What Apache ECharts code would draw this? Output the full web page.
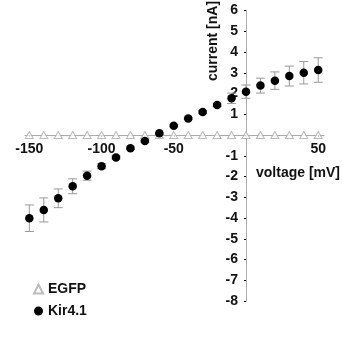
<!DOCTYPE html>
<html>
<head>
<meta charset="utf-8">
<script src="https://cdn.jsdelivr.net/npm/echarts@6/dist/echarts.min.js"></script>
<style>
  html, body { margin: 0; padding: 0; background: #fff; }
  #chart { width: 343px; height: 338px; }
</style>
</head>
<body>
<div id="chart"></div>
<script>
// voltage steps (mV)
const voltages = [-150, -140, -130, -120, -110, -100, -90, -80, -70, -60, -50, -40, -30, -20, -10, 0, 10, 20, 30, 40, 50];
// mean current (nA)
const kirCurrent = [-4.01, -3.61, -3.05, -2.47, -1.96, -1.50, -1.08, -0.64, -0.29, 0.08, 0.45, 0.80, 1.11, 1.45, 1.77, 2.09, 2.38, 2.62, 2.84, 3.00, 3.13];
const kirError = [0.64, 0.58, 0.45, 0.36, 0.22, 0.12, 0.08, 0.06, 0.05, 0.05, 0.05, 0.05, 0.06, 0.08, 0.25, 0.32, 0.36, 0.42, 0.48, 0.54, 0.59];
const egfpCurrent = [0, 0, 0, 0, 0, 0, 0, 0, 0, 0, 0, 0, 0, 0, 0, 0, 0, 0, 0, 0, 0];
const xLabels = [-150, -100, -50, 50];
const yMin = -8, yMax = 6;

const FONT = '"Liberation Sans", Arial, sans-serif';
const chart = echarts.init(document.getElementById('chart'));

// grid box in px; axes are shifted onto the zero lines with offset
const grid = { left: 25, right: 19, top: 10.5, bottom: 37 };
const xMin = -153, xMax = 54;
const gridW = 343 - grid.left - grid.right;
const gridH = 338 - grid.top - grid.bottom;
const yAxisShift = gridW * (0 - xMin) / (xMax - xMin);
const xAxisShift = gridH * (0 - yMin) / (yMax - yMin);

const errData = voltages.map((v, i) => [v, kirCurrent[i], kirError[i]]);

chart.setOption({
  backgroundColor: '#fff',
  animation: false,
  grid: grid,
  xAxis: {
    type: 'value',
    min: xMin,
    max: xMax,
    position: 'bottom',
    offset: -xAxisShift,
    axisLine: { onZero: false, lineStyle: { color: '#aaa', width: 1 } },
    axisTick: { show: true, customValues: [-150, -100, -50, 50], length: 2, lineStyle: { color: '#000' } },
    axisLabel: {
      customValues: xLabels,
      margin: 7,
      color: '#111',
      fontFamily: FONT,
      fontWeight: 'bold',
      fontSize: 14
    },
    splitLine: { show: false }
  },
  yAxis: {
    type: 'value',
    min: yMin,
    max: yMax,
    interval: 1,
    position: 'left',
    offset: -yAxisShift,
    axisLine: { onZero: false, lineStyle: { color: '#aaa', width: 1 } },
    axisTick: { show: true, length: 2, lineStyle: { color: '#000' } },
    axisLabel: {
      margin: 8,
      color: '#111',
      fontFamily: FONT,
      fontWeight: 'bold',
      fontSize: 14,
      formatter: v => (v === 0 ? '' : String(v))
    },
    splitLine: { show: false }
  },
  legend: {
    data: ['EGFP', 'Kir4.1'],
    orient: 'vertical',
    left: 28,
    top: 277,
    itemWidth: 9,
    itemHeight: 9,
    itemGap: 8,
    textStyle: { color: '#111', fontFamily: FONT, fontWeight: 'bold', fontSize: 14 }
  },
  graphic: [
    {
      type: 'text',
      x: 213,
      y: 41,
      rotation: Math.PI / 2,
      style: {
        text: 'current [nA]',
        fill: '#111',
        font: 'bold 14px ' + FONT,
        align: 'center',
        verticalAlign: 'middle'
      }
    },
    {
      type: 'text',
      x: 256,
      y: 173,
      style: {
        text: 'voltage [mV]',
        fill: '#111',
        font: 'bold 14px ' + FONT,
        align: 'left',
        verticalAlign: 'middle'
      }
    }
  ],
  series: [
    {
      name: 'err',
      type: 'custom',
      z: 2,
      encode: { x: 0, y: 1 },
      data: errData,
      renderItem: (params, api) => {
        const x = api.value(0), y = api.value(1), e = api.value(2);
        const top = api.coord([x, y + e]);
        const bot = api.coord([x, y - e]);
        const hw = 4.5;
        const st = { stroke: '#999', lineWidth: 1 };
        return {
          type: 'group',
          children: [
            { type: 'line', shape: { x1: top[0], y1: top[1], x2: bot[0], y2: bot[1] }, style: st },
            { type: 'line', shape: { x1: top[0] - hw, y1: top[1], x2: top[0] + hw, y2: top[1] }, style: st },
            { type: 'line', shape: { x1: bot[0] - hw, y1: bot[1], x2: bot[0] + hw, y2: bot[1] }, style: st }
          ]
        };
      }
    },
    {
      name: 'EGFP',
      type: 'scatter',
      z: 3,
      symbol: 'triangle',
      symbolSize: [8, 7],
      itemStyle: { color: '#fff', borderColor: '#aaa', borderWidth: 1 },
      data: voltages.map((v, i) => [v, egfpCurrent[i]])
    },
    {
      name: 'Kir4.1',
      type: 'scatter',
      z: 4,
      symbol: 'circle',
      symbolSize: 8.5,
      itemStyle: { color: '#000', opacity: 1 },
      data: voltages.map((v, i) => [v, kirCurrent[i]])
    }
  ]
});
</script>
</body>
</html>
